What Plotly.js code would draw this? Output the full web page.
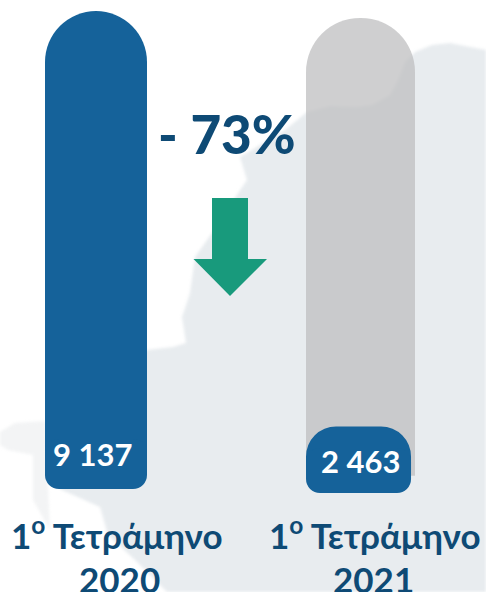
<!DOCTYPE html>
<html><head><meta charset="utf-8">
<script src="https://cdn.plot.ly/plotly-3.0.1.min.js"></script>
<style>html,body{margin:0;padding:0;background:#fff;overflow:hidden}#c{width:486px;height:592px}
.layer-below .shapelayer path{filter:blur(1.5px)}</style>
</head><body><div id="c"></div>
<script>
const periodLabels = ["1<sup>ο</sup> Τετράμηνο", "1<sup>ο</sup> Τετράμηνο"];
const years = ["2020", "2021"];
const values = [9137, 2463];
const valueLabels = ["9 137", "2 463"];
const changeLabel = "- 73%";
const WIDTH = 486, HEIGHT = 592;
const BLUE = "#15629a", NAVY = "#0e4a75", GREEN = "#189a7c", GRAY = "rgba(190,190,192,0.74)";
const FONT = "Lato, 'Open Sans', sans-serif";
const px = x => x / WIDTH, py = y => 1 - y / HEIGHT;
const poly = pts => "M" + pts.map(p => px(p[0]) + "," + py(p[1])).join("L") + "Z";

const mainLand = [[486,50],[465,46],[450,43],[432,45],[415,52],[405,62],[398,80],[390,95],[372,105],[357,107],[330,106],[307,112],[285,130],[240,157],[247,180],[230,205],[212,233],[195,257],[190,293],[182,317],[186,343],[173,347],[147,350],[45,423],[45,475],[62,490],[100,507],[108,535],[135,560],[167,592],[486,592]];
const westLand = [[0,432],[15,423],[45,421],[50,530],[33,500],[33,455],[8,450],[0,445]];

// The reference does not share one scale between its bars, so each has its own axis.
const axisRange = (zeroPx, topPx, value) => { const u = value / (zeroPx - topPx); return [-(HEIGHT - zeroPx) * u, zeroPx * u]; };
const rangeY = axisRange(470, 11, values[0]);      // 2020 bar
const rangeTrack = axisRange(475.7, 18, values[0]); // grey track of 2021
const rangeBar21 = axisRange(470, 426.5, values[1]); // 2021 bar
const cat = 264.5;
const bar = (x, y, w, color, r, axis, base) => {
  const t = {type:"bar", x:[x], y:[y], width:[w/cat], marker:{color:color, cornerradius:r, line:{width:0}}, xaxis:"x", yaxis:axis, hoverinfo:"skip"};
  if (base !== undefined) t.base = [base];
  return t;
};
const u1 = values[0] / 459, u2 = values[1] / 43.5;
const bars = [
  bar(1, values[0], 109, GRAY, 54, "y2"),
  bar(0, values[0], 102, BLUE, 51, "y"),
  bar(0, 50*u1, 102, BLUE, 14, "y", -19*u1),
  bar(0.9925, values[1], 105, BLUE, 30, "y3"),
  bar(0.9925, 45*u2, 105, BLUE, 14, "y3", -23*u2)
];
const note = (x, y, text, size, color, weight) => ({xref:"paper", yref:"paper", x:px(x), y:py(y), xanchor:"center", yanchor:"middle", text:text, showarrow:false, font:{family:FONT, size:size, color:color, weight:weight || 700}});
const layout = {
  width:WIDTH, height:HEIGHT, margin:{l:0,r:0,t:0,b:0}, showlegend:false,
  paper_bgcolor:"#fff", plot_bgcolor:"rgba(0,0,0,0)", barmode:"overlay",
  xaxis:{range:[-96/cat,(486-96)/cat], visible:false, type:"linear", fixedrange:true},
  yaxis:{range:rangeY, visible:false, fixedrange:true},
  yaxis2:{range:rangeTrack, visible:false, overlaying:"y", fixedrange:true},
  yaxis3:{range:rangeBar21, visible:false, overlaying:"y", fixedrange:true},
  shapes:[
    {type:"path", xref:"paper", yref:"paper", path:poly(mainLand), fillcolor:"#e8ecef", line:{width:0}, layer:"below"},
    {type:"path", xref:"paper", yref:"paper", path:poly(westLand), fillcolor:"#f3f4f5", line:{width:0}, layer:"below"},
    {type:"path", xref:"paper", yref:"paper", path:poly([[212,198],[248,198],[248,259],[267,259],[230,296],[193.5,259],[212,259]]), fillcolor:GREEN, line:{width:0}, layer:"above"}
  ],
  annotations:[
    note(92, 454, valueLabels[0], 31, "#fff"),
    note(360, 461, valueLabels[1], 31, "#fff"),
    note(227, 134, changeLabel, 53, NAVY, 900),
    note(117, 533, periodLabels[0], 35, NAVY),
    note(374.5, 533, periodLabels[1], 35, NAVY),
    note(119, 579, years[0], 35, NAVY),
    note(373, 579, years[1], 35, NAVY)
  ]
};
Plotly.newPlot("c", bars, layout, {displayModeBar:false, staticPlot:true});
</script></body></html>
